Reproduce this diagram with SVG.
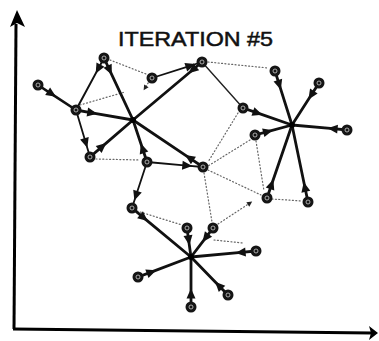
<svg xmlns="http://www.w3.org/2000/svg" width="379" height="341" viewBox="0 0 379 341">
<defs>
<style>
.spoke{fill:none;stroke:#111;stroke-width:2.8;stroke-linecap:round;marker-mid:url(#arr)}
.link{fill:none;stroke:#111;stroke-width:2;stroke-linecap:round;marker-mid:url(#arr)}
.thin{fill:none;stroke:#222;stroke-width:1.4;stroke-linecap:round}
.dot{fill:none;stroke:#666;stroke-width:1.2;stroke-dasharray:1 2.4;stroke-linecap:round}
.node circle.o{fill:#151515}
.node circle.i{fill:none;stroke:#ccc;stroke-width:0.8}
.hub{fill:#000}
.axis{fill:none;stroke:#000;stroke-width:3}
.title{font-family:"Liberation Sans",Arial,sans-serif;font-size:21px;fill:#111;stroke:#111;stroke-width:0.5}
</style>
<marker id="arr" viewBox="-6 -6 12 12" markerWidth="12" markerHeight="12" markerUnits="userSpaceOnUse" orient="auto" refX="0" refY="0">
<path d="M-4.5,-4.5 L5.5,0 L-4.5,4.5 z" fill="#111"/>
</marker>
<marker id="sarr" viewBox="-4 -4 8 8" markerWidth="7" markerHeight="7" markerUnits="userSpaceOnUse" orient="auto" refX="0" refY="0">
<path d="M-3,-3 L3,0 L-3,3 z" fill="#222"/>
</marker>
</defs>
<rect width="379" height="341" fill="#fff"/>
<g id="axes">
<path class="axis" d="M16,24 L14,329"/>
<path d="M17,10 L25,27 L17,23 L10,27 z" fill="#000"/>
<path class="axis" d="M13,329 L372,333"/>
<path d="M378,333 L369,326 L371,333 L369,340 z" fill="#000"/>
</g>
<text class="title" x="118" y="46" textLength="155" lengthAdjust="spacingAndGlyphs">ITERATION #5</text>
<g id="connectors">
<path class="dot" d="M110,60 L146,74"/>
<path class="dot" d="M80,105 L125,92"/>
<path class="dot" d="M96,159 L140,160"/>
<path class="dot" d="M208,62 L268,68"/>
<path class="dot" d="M238,113 L208,162"/>
<path class="dot" d="M250,140 L208,166"/>
<path class="dot" d="M256,141 L264,191"/>
<path class="dot" d="M208,170 L261,195"/>
<path class="dot" d="M204,173 L212,222"/>
<path class="dot" d="M218,224 L250,203" marker-end="url(#sarr)"/>
<path class="dot" d="M272,199 L302,201"/>
<path class="dot" d="M137,211 L182,225"/>
<path class="dot" d="M214,240 L243,243"/>
<path class="dot" d="M150,80 L145,88" marker-end="url(#sarr)"/>
<polyline class="link" style="stroke-width:2.6" points="38,85 51.4,93.8 76,110"/>
<polyline class="link" points="104,58 98.3,68.6 76,110"/>
<polyline class="link" style="stroke-width:1.8" points="76,110 85.7,142.6 90,157"/>
<polyline class="link" style="stroke-width:1.8" points="147,162 136.1,195.3 132,208"/>
<polyline class="link" style="stroke-width:1.8" points="147,162 186.8,165.6 203,167"/>
<polyline class="link" style="stroke-width:1.8" points="152,78 190.1,65.8 202,62"/>
<path class="thin" d="M202,62 L243,108"/>
<polyline class="spoke" points="104,58 109.5,69.8 133,120"/>
<polyline class="spoke" points="76,110 91.8,112.8 133,120"/>
<polyline class="spoke" points="90,157 102.1,146.6 133,120"/>
<polyline class="spoke" points="147,162 142.6,148.7 133,120"/>
<polyline class="spoke" points="202,62 192.8,69.7 133,120"/>
<polyline class="spoke" points="203,167 189.7,158.1 133,120"/>
<polyline class="spoke" points="275,71 279.2,84.4 292,125"/>
<polyline class="spoke" points="319,83 311.4,94.8 292,125"/>
<polyline class="spoke" points="243,108 257.2,112.9 292,125"/>
<polyline class="spoke" points="347,130 333.1,128.7 292,125"/>
<polyline class="spoke" points="255,135 267.6,131.6 292,125"/>
<polyline class="spoke" points="267,198 271.5,184.8 292,125"/>
<polyline class="spoke" points="308,202 304.9,187.3 292,125"/>
<polyline class="spoke" points="132,208 143.5,217.6 191,257"/>
<polyline class="spoke" points="187,228 188.6,239.9 191,257"/>
<polyline class="spoke" points="213,228 205.8,237.6 191,257"/>
<polyline class="spoke" points="256,251 241.1,252.4 191,257"/>
<polyline class="spoke" points="228,295 218.9,285.7 191,257"/>
<polyline class="spoke" points="191,307 191,294 191,257"/>
<polyline class="spoke" points="138,277 151.1,272.1 191,257"/>
</g>
<g id="hub1"><circle class="hub" cx="133" cy="120" r="3"/></g>
<g id="hub2"><circle class="hub" cx="292" cy="125" r="3"/></g>
<g id="hub3"><circle class="hub" cx="191" cy="257" r="3"/></g>
<g id="nA" class="node"><circle class="o" cx="104" cy="58" r="5.5"/><circle class="i" cx="104" cy="58" r="2"/></g>
<g id="nB" class="node"><circle class="o" cx="38" cy="85" r="5.5"/><circle class="i" cx="38" cy="85" r="2"/></g>
<g id="nC" class="node"><circle class="o" cx="76" cy="110" r="5.5"/><circle class="i" cx="76" cy="110" r="2"/></g>
<g id="nD" class="node"><circle class="o" cx="90" cy="157" r="5.5"/><circle class="i" cx="90" cy="157" r="2"/></g>
<g id="nE" class="node"><circle class="o" cx="147" cy="162" r="5.5"/><circle class="i" cx="147" cy="162" r="2"/></g>
<g id="nF" class="node"><circle class="o" cx="152" cy="78" r="5.5"/><circle class="i" cx="152" cy="78" r="2"/></g>
<g id="nG" class="node"><circle class="o" cx="202" cy="62" r="5.5"/><circle class="i" cx="202" cy="62" r="2"/></g>
<g id="nH" class="node"><circle class="o" cx="275" cy="71" r="5.5"/><circle class="i" cx="275" cy="71" r="2"/></g>
<g id="nI" class="node"><circle class="o" cx="319" cy="83" r="5.5"/><circle class="i" cx="319" cy="83" r="2"/></g>
<g id="nJ" class="node"><circle class="o" cx="243" cy="108" r="5.5"/><circle class="i" cx="243" cy="108" r="2"/></g>
<g id="nK" class="node"><circle class="o" cx="347" cy="130" r="5.5"/><circle class="i" cx="347" cy="130" r="2"/></g>
<g id="nL" class="node"><circle class="o" cx="255" cy="135" r="5.5"/><circle class="i" cx="255" cy="135" r="2"/></g>
<g id="nM" class="node"><circle class="o" cx="203" cy="167" r="5.5"/><circle class="i" cx="203" cy="167" r="2"/></g>
<g id="nN" class="node"><circle class="o" cx="132" cy="208" r="5.5"/><circle class="i" cx="132" cy="208" r="2"/></g>
<g id="nO" class="node"><circle class="o" cx="187" cy="228" r="5.5"/><circle class="i" cx="187" cy="228" r="2"/></g>
<g id="nP" class="node"><circle class="o" cx="213" cy="228" r="5.5"/><circle class="i" cx="213" cy="228" r="2"/></g>
<g id="nQ" class="node"><circle class="o" cx="138" cy="277" r="5.5"/><circle class="i" cx="138" cy="277" r="2"/></g>
<g id="nR" class="node"><circle class="o" cx="228" cy="295" r="5.5"/><circle class="i" cx="228" cy="295" r="2"/></g>
<g id="nS" class="node"><circle class="o" cx="191" cy="307" r="5.5"/><circle class="i" cx="191" cy="307" r="2"/></g>
<g id="nT" class="node"><circle class="o" cx="256" cy="251" r="5.5"/><circle class="i" cx="256" cy="251" r="2"/></g>
<g id="nU" class="node"><circle class="o" cx="267" cy="198" r="5.5"/><circle class="i" cx="267" cy="198" r="2"/></g>
<g id="nV" class="node"><circle class="o" cx="308" cy="202" r="5.5"/><circle class="i" cx="308" cy="202" r="2"/></g>
</svg>
